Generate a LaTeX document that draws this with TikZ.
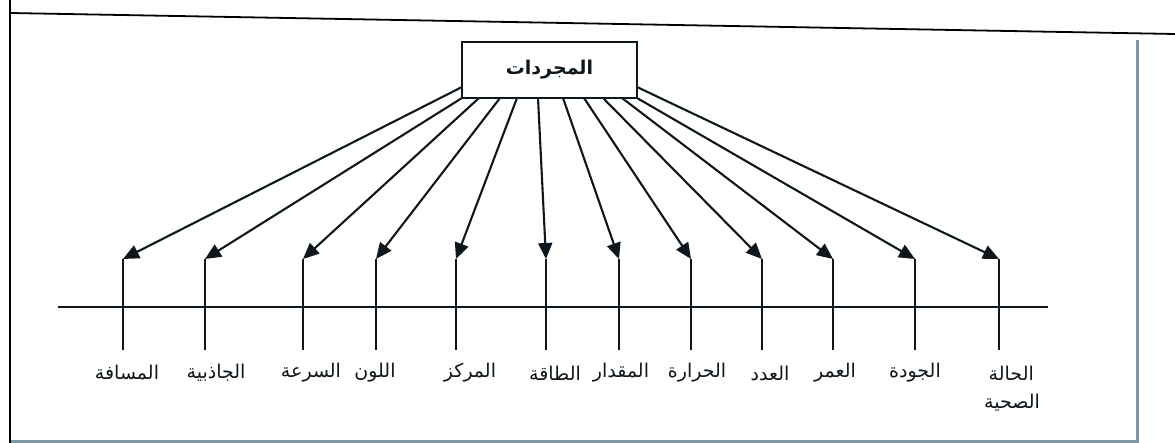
\documentclass[tikz,border=0pt]{standalone}
\usepackage{fontspec}
\usetikzlibrary{arrows.meta,calc}
\TeXXeTstate=1
\newfontfamily\arabicfont[Script=Arabic]{DejaVu Sans}
\definecolor{ink}{HTML}{0E171C}
\definecolor{framegray}{HTML}{7D97A3}
\begin{document}
\begin{tikzpicture}[x=1pt,y=-1pt,
  ink line/.style={draw=ink,line width=2.1pt},
  arr/.style={ink line,-{Triangle[length=16pt,width=14pt]}},
  lbl/.style={font=\arabicfont\fontsize{19}{22}\selectfont,text=ink,inner sep=0pt,anchor=center},
  titlebox/.style={draw=ink,line width=2.2pt,fill=white,minimum width=175pt,minimum height=56pt,inner sep=0pt,
     font=\arabicfont\bfseries\fontsize{19}{22}\selectfont,text=ink}]
\useasboundingbox (0,0) rectangle (1175,443);
\fill[white] (0,0) rectangle (1175,443);
% page frame lines
\coordinate (fl1) at (10,0);
\coordinate (fl2) at (10,443);
\coordinate (ft1) at (10,13);
\coordinate (ft2) at (1175,34);
\draw[black,line width=1.8pt] (fl1) -- (fl2);
\draw[black,line width=1.8pt] (ft1) -- (ft2);
% shadowed inner frame
\coordinate (fr1) at (1137,40);
\coordinate (fr2) at (1137,441);
\coordinate (fb1) at (11,441);
\draw[framegray,line width=3pt] (fr1) -- (fr2) -- (fb1);
% title box
\node[titlebox] (top) at (549.5,70) {\beginR المجردات\endR};
% horizontal axis
\coordinate (h1) at (58,307);
\coordinate (h2) at (1048,307);
\draw[ink line] (h1) -- (h2);
% start points on the box
\coordinate (s1) at (462,87);
\coordinate (s2) at (462,98);
\coordinate (s3) at (479,98);
\coordinate (s4) at (500,98);
\coordinate (s5) at (517,98);
\coordinate (s6) at (538,98);
\coordinate (s7) at (563,98);
\coordinate (s8) at (584,98);
\coordinate (s9) at (603,98);
\coordinate (s10) at (622,98);
\coordinate (s11) at (637,98);
\coordinate (s12) at (637,87);
% tips and bottoms
\foreach \i/\x in {1/123,2/205,3/303,4/376,5/456,6/546,7/619,8/691,9/762,10/833,11/915,12/999}{
  \coordinate (t\i) at (\x,259);
  \coordinate (b\i) at (\x,350);
  \draw[ink line] (t\i) -- (b\i);
  \draw[arr] (s\i) -- (t\i);
}
% labels
\node[lbl] (l1) at (127,373) {\beginR المسافة\endR};
\node[lbl] (l2) at (216,373) {\beginR الجاذبية\endR};
\node[lbl] (l3) at (311,373) {\beginR السرعة\endR};
\node[lbl] (l4) at (375,373) {\beginR اللون\endR};
\node[lbl] (l5) at (470,373) {\beginR المركز\endR};
\node[lbl] (l6) at (555,373) {\beginR الطاقة\endR};
\node[lbl] (l7) at (621,373) {\beginR المقدار\endR};
\node[lbl] (l8) at (697,373) {\beginR الحرارة\endR};
\node[lbl] (l9) at (770,373) {\beginR العدد\endR};
\node[lbl] (l10) at (835,373) {\beginR العمر\endR};
\node[lbl] (l11) at (915,373) {\beginR الجودة\endR};
\node[lbl,anchor=east] (l12) at (1034,373) {\beginR الحالة\endR};
\node[lbl,anchor=east] (l12b) at (1040,403) {\beginR الصحية\endR};
\end{tikzpicture}
\end{document}
